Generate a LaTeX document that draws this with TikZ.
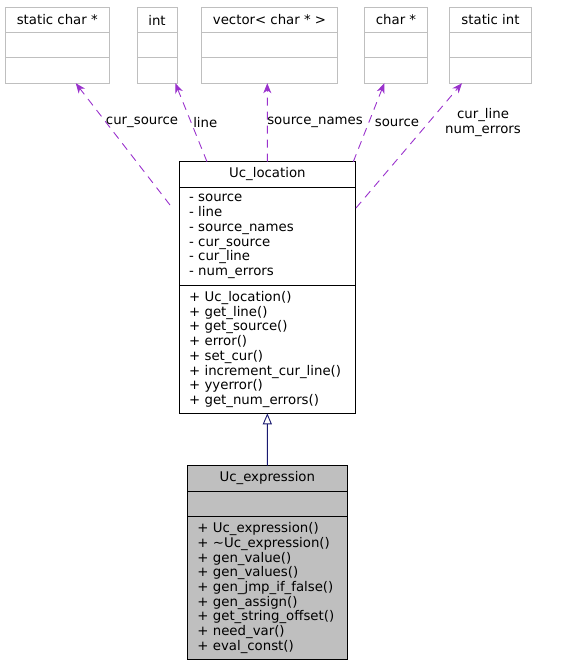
\documentclass[tikz,border=0pt]{standalone}
\usepackage{fontspec}
\setmainfont{DejaVu Sans}
\usepackage{xcolor}
\usetikzlibrary{positioning,arrows.meta}

\definecolor{boxgray}{HTML}{BFBFBF}
\definecolor{deppurple}{HTML}{9A32CD}
\definecolor{inhnavy}{HTML}{191970}

\tikzset{
	box/.style={draw, line width=0.9pt, inner sep=0pt, outer sep=0pt, minimum height=25.3pt},
	extbox/.style={box, draw=boxgray},
	members/.style={box, align=left, inner xsep=10pt, inner ysep=2pt},
	dep/.style={draw=deppurple, line width=0.9pt, dash pattern=on 8pt off 6pt,
		-{Stealth[length=10pt,width=8pt,inset=3pt,fill=deppurple]}},
	inherit/.style={draw=inhnavy, line width=0.9pt, -{Triangle[open,length=11pt,width=9pt,fill=white]}},
	lbl/.style={inner sep=1pt, align=center}
}

\begin{document}
\begin{tikzpicture}[x=1pt, y=-1pt, font=\fontsize{13.3}{14.7}\selectfont] % pixel grid, y down
		\useasboundingbox (0,0) rectangle (572,664);

		% used types
		\node[extbox, minimum width=104.5pt, anchor=north west] (scs) at (5,7.3) {static char *};
		\node[extbox, minimum width=104.5pt, below=0pt of scs] (scs2) {};
		\node[extbox, minimum width=104.5pt, below=0pt of scs2] (scs3) {};

		\node[extbox, minimum width=40pt, anchor=north west] (it) at (137,7.3) {int};
		\node[extbox, minimum width=40pt, below=0pt of it] (it2) {};
		\node[extbox, minimum width=40pt, below=0pt of it2] (it3) {};

		\node[extbox, minimum width=136pt, anchor=north west] (vec) at (201.5,7.3) {vector< char * >};
		\node[extbox, minimum width=136pt, below=0pt of vec] (vec2) {};
		\node[extbox, minimum width=136pt, below=0pt of vec2] (vec3) {};

		\node[extbox, minimum width=63.4pt, anchor=north west] (cp) at (364.3,7.3) {char *};
		\node[extbox, minimum width=63.4pt, below=0pt of cp] (cp2) {};
		\node[extbox, minimum width=63.4pt, below=0pt of cp2] (cp3) {};

		\node[extbox, minimum width=82.4pt, anchor=north west] (si) at (449.3,7.3) {static int};
		\node[extbox, minimum width=82.4pt, below=0pt of si] (si2) {};
		\node[extbox, minimum width=82.4pt, below=0pt of si2] (si3) {};

		% Uc_location
		\node[box, minimum width=176.7pt, minimum height=25.6pt, anchor=north west] (loc) at (179,161.7) {Uc\_location};
		\node[members, text width=156.7pt, minimum height=98.4pt, below=0pt of loc] (locattr)
		{- source\\- line\\- source\_names\\- cur\_source\\- cur\_line\\- num\_errors};
		\node[members, text width=156.7pt, minimum height=127.6pt, below=0pt of locattr] (locops)
		{+ Uc\_location()\\+ get\_line()\\+ get\_source()\\+ error()\\+ set\_cur()\\+ increment\_cur\_line()\\+ yyerror()\\+ get\_num\_errors()};

		% Uc_expression
		\node[box, fill=boxgray, minimum width=160pt, anchor=north west] (expr) at (187.3,465.7) {Uc\_expression};
		\node[box, fill=boxgray, minimum width=160pt, minimum height=25.7pt, below=0pt of expr] (exprattr) {};
		\node[members, fill=boxgray, text width=140pt, minimum height=142.6pt, below=0pt of exprattr] (exprops)
		{+ Uc\_expression()\\+ \textasciitilde Uc\_expression()\\+ gen\_value()\\+ gen\_values()\\+ gen\_jmp\_if\_false()\\+ gen\_assign()\\+ get\_string\_offset()\\+ need\_var()\\+ eval\_const()};

		\draw[inherit] (expr.north) -- (locops.south);

		% usage edges
		\draw[dep] ([shift={(-9,17.7)}]locattr.north west) -- ([xshift=18.5]scs3.south);
		\draw[dep] ([xshift=28]loc.north west) -- ([xshift=18.3]it3.south);
		\draw[dep] (loc.north) -- ([xshift=-2.2]vec3.south);
		\draw[dep] ([xshift=-2.4]loc.north east) -- ([xshift=-11.7]cp3.south);
		\draw[dep] ([shift={(0.3,20.7)}]locattr.north east) -- ([xshift=-28.5]si3.south);

		\node[lbl] (lcs) at (142,122.5) {cur\_source};
		\node[lbl] (lln) at (205.3,122.5) {line};
		\node[lbl] (lsn) at (315,122.5) {source\_names};
		\node[lbl] (lsr) at (397,122.5) {source};
		\node[lbl] (lcl) at (483,122.5) {cur\_line\\num\_errors};
		\end{tikzpicture}
\end{document}
